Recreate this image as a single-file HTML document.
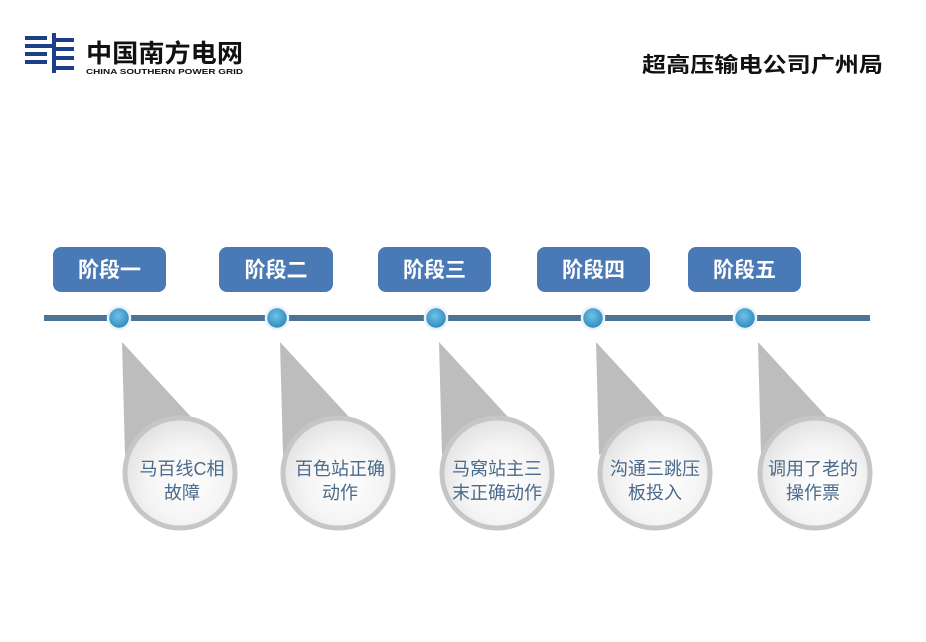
<!DOCTYPE html>
<html><head><meta charset="utf-8"><style>
body{margin:0;background:#fff;}
svg{display:block;}
</style></head><body>
<svg width="926" height="642" viewBox="0 0 926 642" xmlns="http://www.w3.org/2000/svg" font-family="'Liberation Sans','Noto Sans CJK SC',sans-serif">
<defs>
<radialGradient id="cg" cx="0.55" cy="0.6" r="0.6">
<stop offset="0" stop-color="#ffffff"/><stop offset="0.6" stop-color="#f4f4f4"/><stop offset="1" stop-color="#e2e2e2"/>
</radialGradient>
<radialGradient id="dg" cx="0.45" cy="0.4" r="0.6">
<stop offset="0" stop-color="#6cc3ea"/><stop offset="1" stop-color="#2d86b8"/>
</radialGradient>
</defs>
<g fill="#1d3f8a">
<rect x="25" y="36" width="22" height="4"/><rect x="25" y="44" width="28" height="4"/><rect x="25" y="52" width="22" height="4"/><rect x="25" y="60" width="22" height="4"/>
<rect x="52" y="33" width="4" height="40"/><rect x="56" y="38" width="18" height="4"/><rect x="56" y="47" width="18" height="4"/><rect x="56" y="56" width="18" height="4"/><rect x="56" y="66" width="18" height="4"/>
</g>
<text x="86" y="62" font-size="25" font-weight="bold" fill="#111" textLength="157" lengthAdjust="spacingAndGlyphs">中国南方电网</text>
<text x="86" y="74" font-size="7.5" font-weight="bold" fill="#111" textLength="157" lengthAdjust="spacingAndGlyphs">CHINA SOUTHERN POWER GRID</text>
<text x="642" y="72" font-size="21" font-weight="bold" fill="#111" textLength="241" lengthAdjust="spacingAndGlyphs">超高压输电公司广州局</text>
<rect x="44" y="315" width="826" height="6" fill="#4d7396"/>
<g font-size="21" font-weight="bold" fill="#fff" text-anchor="middle">
<rect x="53" y="247" width="113" height="45" rx="8" fill="#4a7ab5"/><text x="109.5" y="277">阶段一</text>
<rect x="219" y="247" width="114" height="45" rx="8" fill="#4a7ab5"/><text x="276" y="277">阶段二</text>
<rect x="378" y="247" width="113" height="45" rx="8" fill="#4a7ab5"/><text x="434.5" y="277">阶段三</text>
<rect x="537" y="247" width="113" height="45" rx="8" fill="#4a7ab5"/><text x="593.5" y="277">阶段四</text>
<rect x="688" y="247" width="113" height="45" rx="8" fill="#4a7ab5"/><text x="744.5" y="277">阶段五</text>
</g>
<g stroke="#e8f2f8" stroke-width="2.5" fill="url(#dg)">
<circle cx="119" cy="318" r="11"/><circle cx="277" cy="318" r="11"/><circle cx="436" cy="318" r="11"/><circle cx="593" cy="318" r="11"/><circle cx="745" cy="318" r="11"/>
</g>
<g fill="#bdbdbd">
<polygon points="122,342 125,455 192,418"/>
<polygon points="280,342 283,455 350,418"/>
<polygon points="439,342 442,455 509,418"/>
<polygon points="596,342 599,455 666,418"/>
<polygon points="758,342 761,455 828,418"/>
</g>
<g fill="url(#cg)" stroke="#c6c6c6" stroke-width="5">
<circle cx="180" cy="473" r="55"/><circle cx="338" cy="473" r="55"/><circle cx="497" cy="473" r="55"/><circle cx="655" cy="473" r="55"/><circle cx="815" cy="473" r="55"/>
</g>
<g font-size="18" fill="#4a6a8c" text-anchor="middle">
<text x="182" y="475">马百线C相</text><text x="182" y="499">故障</text>
<text x="340" y="475">百色站正确</text><text x="340" y="499">动作</text>
<text x="497" y="475">马窝站主三</text><text x="497" y="499">末正确动作</text>
<text x="655" y="475">沟通三跳压</text><text x="655" y="499">板投入</text>
<text x="813" y="475">调用了老的</text><text x="813" y="499">操作票</text>
</g>
</svg>
</body></html>
